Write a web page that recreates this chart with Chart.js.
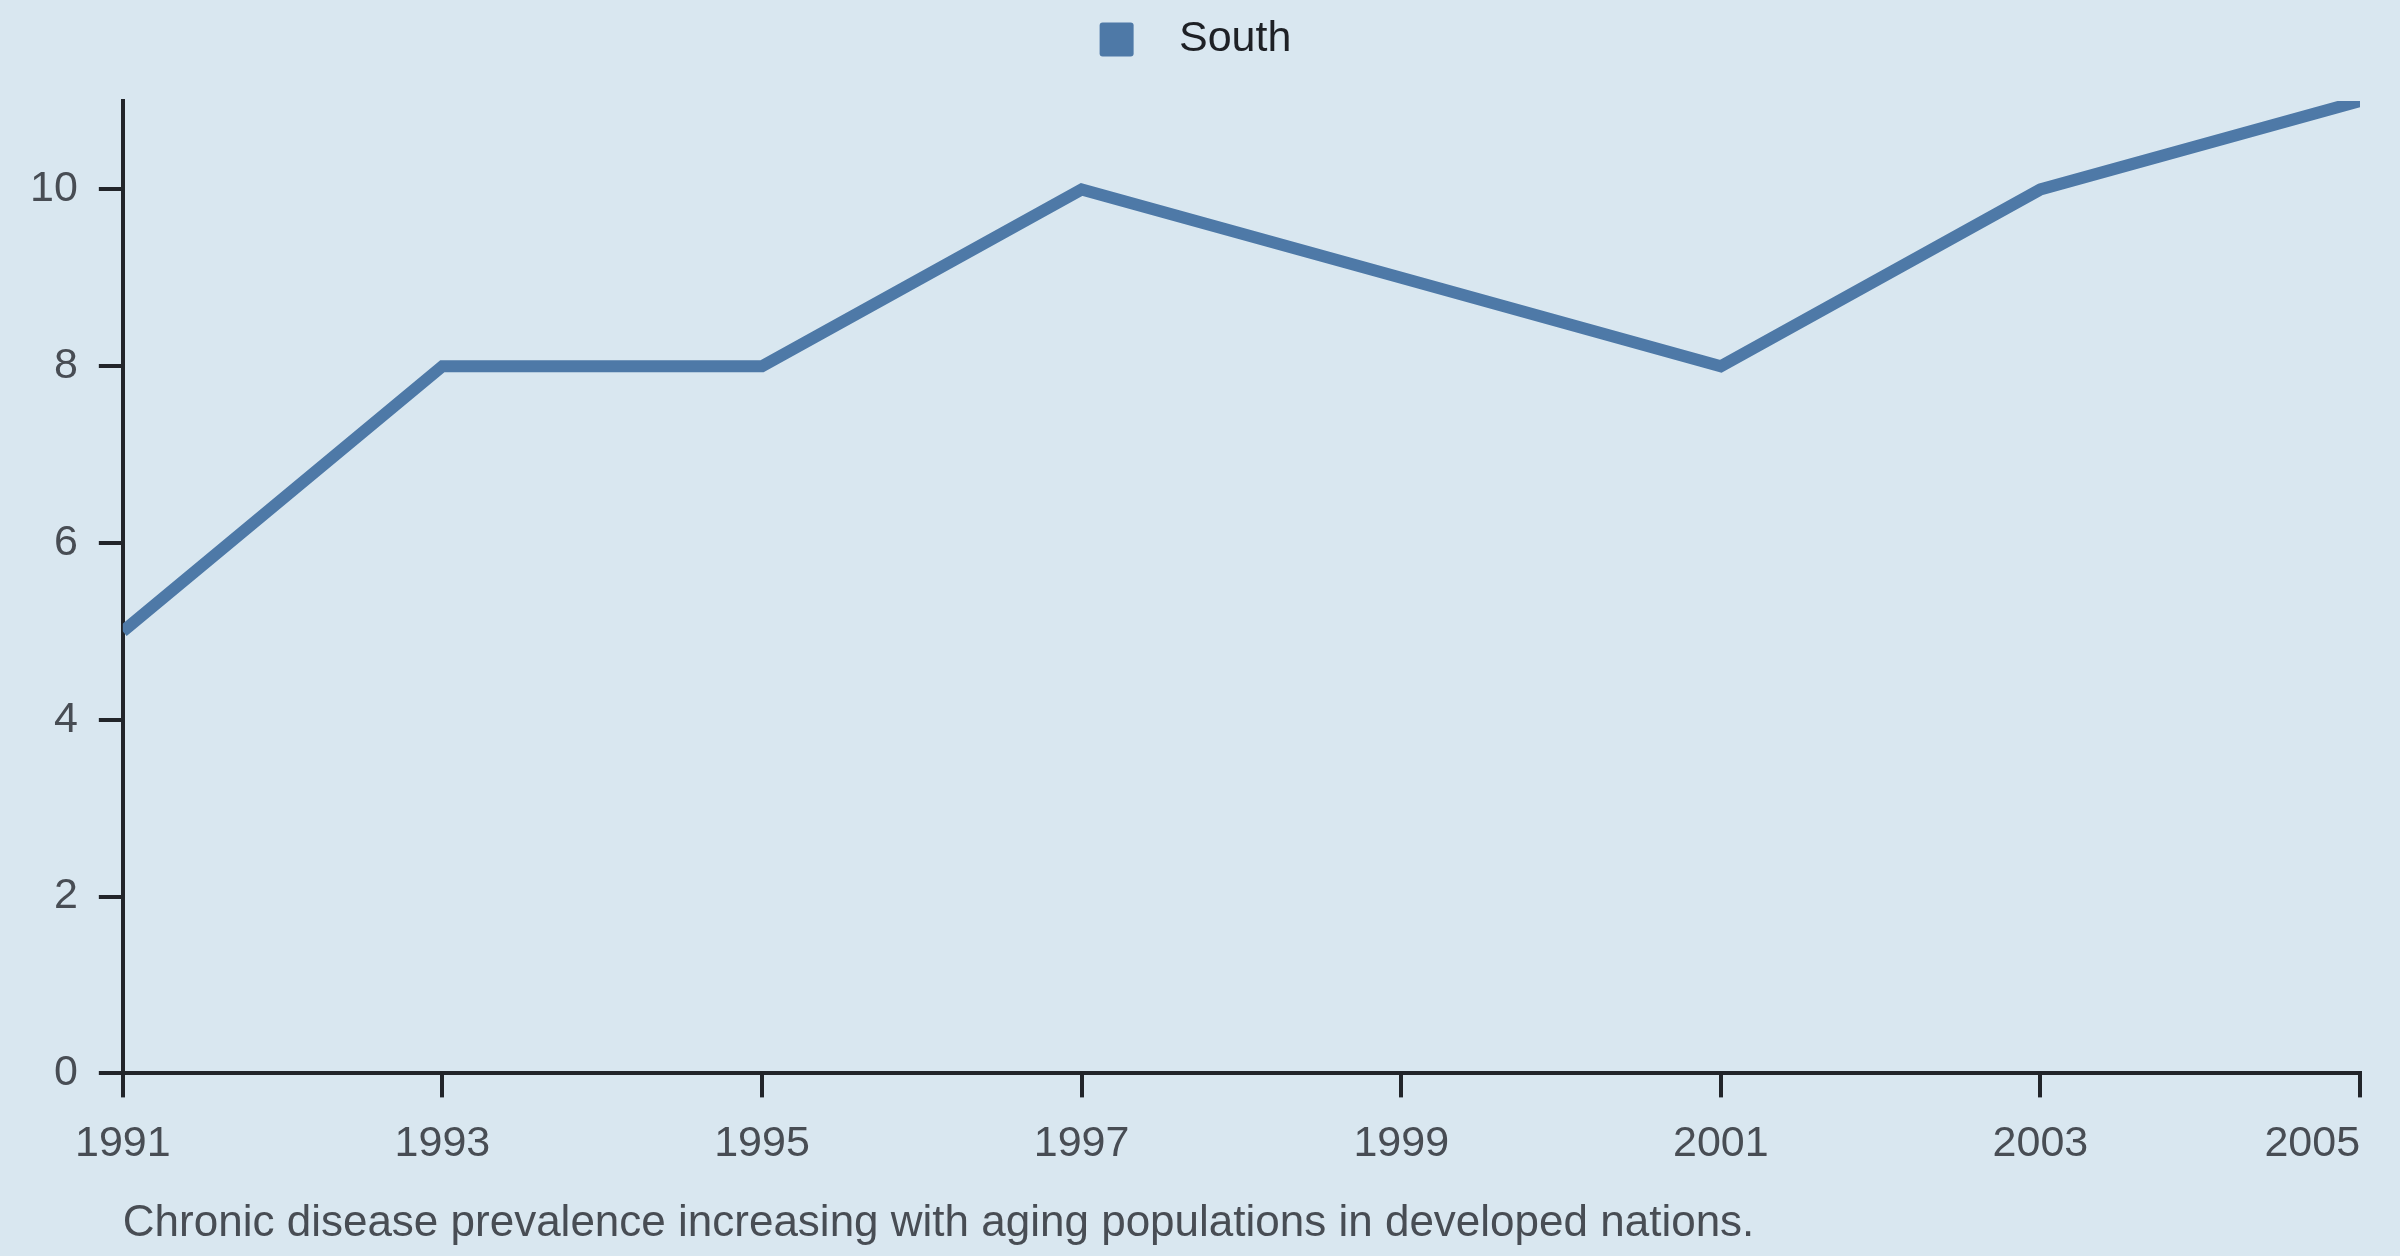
<!DOCTYPE html>
<html>
<head>
<meta charset="utf-8">
<script src="https://cdn.jsdelivr.net/npm/chart.js@4.4.1/dist/chart.umd.min.js"></script>
<style>
  html, body { margin: 0; padding: 0; background: #d9e7f0; }
  #wrap { width: 2400px; height: 1256px; }
</style>
</head>
<body>
<div id="wrap"><canvas id="myChart" width="2400" height="1256"></canvas></div>
<script>
const years = [1991, 1993, 1995, 1997, 1999, 2001, 2003, 2005];
const southValues = [5, 8, 8, 10, 9, 8, 10, 11];
const yTicks = [0, 2, 4, 6, 8, 10];
const caption = "Chronic disease prevalence increasing with aging populations in developed nations.";

const lineColor = "#4e79a7";
const axisColor = "#22252a";
const labelColor = "#484d54";
const fontFamily = "'Liberation Sans', Arial, sans-serif";

// caption under the x axis, starting at the plot's left edge
const captionPlugin = {
  id: "caption",
  afterDraw(chart) {
    const ctx = chart.ctx;
    ctx.save();
    ctx.font = "44px " + fontFamily;
    ctx.fillStyle = labelColor;
    ctx.textAlign = "left";
    ctx.textBaseline = "middle";
    ctx.fillText(caption, chart.chartArea.left, 1224);
    ctx.restore();
  },
};

// extra room between legend and plot, and legend nudged to the page centre
const legendMargin = {
  id: "legendMargin",
  beforeInit(chart) {
    const fit = chart.legend.fit;
    chart.legend.fit = function () {
      fit.bind(chart.legend)();
      this.height += 30;
    };
  },
  afterLayout(chart) {
    chart.legend.left += 11;
    chart.legend.right += 11;
  },
};

new Chart("myChart", {
  type: "line",
  data: {
    datasets: [
      {
        label: "South",
        data: years.map((y, i) => ({ x: y, y: southValues[i] })),
        borderColor: lineColor,
        backgroundColor: lineColor,
        borderWidth: 12,
        pointRadius: 0,
        tension: 0,
      },
    ],
  },
  options: {
    responsive: false,
    animation: false,
    devicePixelRatio: 1,
    layout: { padding: { top: 8, left: 9, right: 40, bottom: 65 } },
    plugins: {
      legend: {
        display: true,
        position: "top",
        labels: {
          boxWidth: 34,
          boxHeight: 34,
          color: "#1e2126",
          font: { family: fontFamily, size: 43 },
          generateLabels: (chart) =>
            Chart.defaults.plugins.legend.labels.generateLabels(chart).map((l) => ({
              ...l,
              text: "  " + l.text,
              lineWidth: 0,
              borderRadius: 3,
            })),
        },
      },
      tooltip: { enabled: false },
    },
    scales: {
      x: {
        type: "linear",
        min: 1991,
        max: 2005,
        afterBuildTicks: (scale) => {
          scale.ticks = years.map((v) => ({ value: v }));
        },
        afterFit: (scale) => {
          scale.paddingLeft = 0;
          scale.paddingRight = 0;
        },
        ticks: {
          color: labelColor,
          font: { family: fontFamily, size: 43 },
          padding: 21,
          maxRotation: 0,
          autoSkip: false,
          // last label sits left of its tick, as in the original
          callback: (v) => (v === years[years.length - 1] ? String(v) + "        " : String(v)),
        },
        grid: {
          drawOnChartArea: false,
          color: axisColor,
          lineWidth: 4,
          tickLength: 24,
        },
        border: { color: axisColor, width: 4 },
      },
      y: {
        min: 0,
        max: 11,
        afterBuildTicks: (scale) => {
          scale.ticks = yTicks.map((v) => ({ value: v }));
        },
        ticks: {
          color: labelColor,
          font: { family: fontFamily, size: 43 },
          padding: 21,
        },
        grid: {
          drawOnChartArea: false,
          color: axisColor,
          lineWidth: 4,
          tickLength: 24,
        },
        border: { color: axisColor, width: 4 },
      },
    },
  },
  plugins: [captionPlugin, legendMargin],
});
</script>
</body>
</html>
